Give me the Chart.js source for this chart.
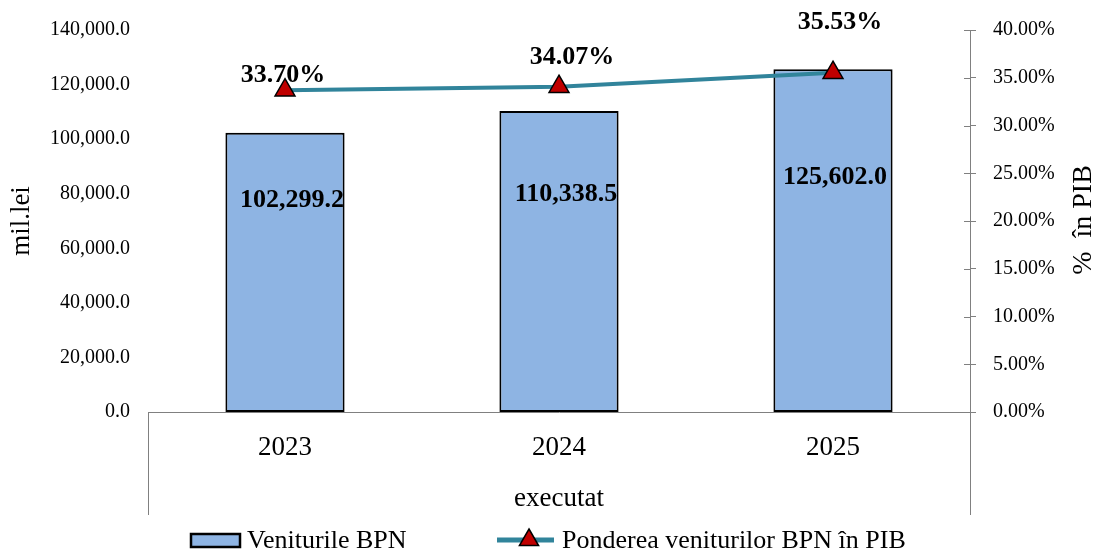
<!DOCTYPE html>
<html>
<head>
<meta charset="utf-8">
<script src="https://cdn.jsdelivr.net/npm/chart.js"></script>
<style>
  html, body { margin: 0; padding: 0; background: #fff; }
  #wrap { width: 1097px; height: 550px; }
</style>
</head>
<body>
<div id="wrap"><canvas id="chart" width="1097" height="550"></canvas></div>
<script>
const categories = ['2023', '2024', '2025'];
const groupLabel = 'executat';
const revenues = [102299.2, 110338.5, 125602.0];
const shareOfGdp = [33.70, 34.07, 35.53];
const revenueLabel = 'Veniturile BPN';
const shareLabel = 'Ponderea veniturilor BPN în PIB';
const leftTitle = 'mil.lei';
const rightTitle = '%  în PIB';

const serif = '"Liberation Serif", "Times New Roman", serif';
const barFill = '#8EB4E3';
const lineColor = '#31849B';
const markerColor = '#C00000';
const axisGray = '#808080';

const fmtLei = v => v.toLocaleString('en-US', { minimumFractionDigits: 1, maximumFractionDigits: 1 });
const fmtPct = v => v.toFixed(2) + '%';

// hand placed labels in the original, offsets in px from the point
const barLabelDrop = [67, 83, 108];
const barLabelShift = [7, 7, 2];
const pctLabelShift = [[-2, -15], [13, -29], [7, -50]];

const extras = {
  id: 'extras',
  afterDatasetsDraw(chart) {
    const ctx = chart.ctx;
    const area = chart.chartArea;
    const y1 = chart.scales.y1;

    ctx.save();
    // group separators below the category axis
    ctx.strokeStyle = axisGray;
    ctx.lineWidth = 1;
    ctx.beginPath();
    ctx.moveTo(area.left + 0.5, area.bottom);
    ctx.lineTo(area.left + 0.5, 515);
    ctx.moveTo(area.right + 0.5, area.bottom);
    ctx.lineTo(area.right + 0.5, 515);
    ctx.stroke();

    // inner half of the right axis tick marks
    ctx.beginPath();
    y1.ticks.forEach(t => {
      const py = Math.round(y1.getPixelForValue(t.value)) + 0.5;
      ctx.moveTo(area.right - 6, py);
      ctx.lineTo(area.right, py);
    });
    ctx.stroke();

    // bar value labels
    ctx.fillStyle = '#000';
    ctx.font = 'bold 26px ' + serif;
    ctx.textAlign = 'center';
    ctx.textBaseline = 'middle';
    chart.getDatasetMeta(1).data.forEach((bar, i) => {
      ctx.fillText(fmtLei(revenues[i]), bar.x + barLabelShift[i], bar.y + barLabelDrop[i]);
    });

    // percentage labels
    chart.getDatasetMeta(0).data.forEach((pt, i) => {
      ctx.fillText(fmtPct(shareOfGdp[i]), pt.x + pctLabelShift[i][0], pt.y + pctLabelShift[i][1]);
    });
    ctx.restore();
  },
  afterDraw(chart) {
    const ctx = chart.ctx;
    ctx.save();
    // right axis title, reading bottom to top
    ctx.fillStyle = '#000';
    ctx.font = '28px ' + serif;
    ctx.textAlign = 'center';
    ctx.textBaseline = 'middle';
    ctx.translate(1084, 220);
    ctx.rotate(-Math.PI / 2);
    ctx.fillText(rightTitle, 0, 0);
    ctx.restore();

    // legend
    ctx.save();
    const ly = 540;
    ctx.font = '26px ' + serif;
    ctx.textBaseline = 'middle';
    ctx.textAlign = 'left';
    ctx.fillStyle = barFill;
    ctx.fillRect(191, ly - 6, 49, 13);
    ctx.strokeStyle = '#000';
    ctx.lineWidth = 2.5;
    ctx.strokeRect(191, ly - 6, 49, 13);
    ctx.fillStyle = '#000';
    ctx.fillText(revenueLabel, 247, ly + 1);

    ctx.strokeStyle = lineColor;
    ctx.lineWidth = 5;
    ctx.beginPath();
    ctx.moveTo(497, ly);
    ctx.lineTo(554, ly);
    ctx.stroke();
    const tx = 529, r = 11;
    ctx.beginPath();
    ctx.moveTo(tx, ly - r);
    ctx.lineTo(tx + r * 0.87, ly + r * 0.5);
    ctx.lineTo(tx - r * 0.87, ly + r * 0.5);
    ctx.closePath();
    ctx.fillStyle = markerColor;
    ctx.fill();
    ctx.strokeStyle = '#000';
    ctx.lineWidth = 1.5;
    ctx.stroke();
    ctx.fillStyle = '#000';
    ctx.fillText(shareLabel, 562, ly + 1);
    ctx.restore();
  }
};

new Chart(document.getElementById('chart'), {
  data: {
    labels: categories,
    datasets: [
      {
        type: 'line',
        label: shareLabel,
        data: shareOfGdp,
        yAxisID: 'y1',
        order: 0,
        borderColor: lineColor,
        borderWidth: 4,
        tension: 0,
        pointStyle: 'triangle',
        pointRadius: 11.5,
        pointBackgroundColor: markerColor,
        pointBorderColor: '#000',
        pointBorderWidth: 1.5
      },
      {
        type: 'bar',
        label: revenueLabel,
        data: revenues,
        yAxisID: 'y',
        order: 1,
        backgroundColor: barFill,
        borderColor: '#000',
        borderWidth: 2,
        borderSkipped: false,
        categoryPercentage: 1,
        barPercentage: 0.435
      }
    ]
  },
  options: {
    responsive: false,
    animation: false,
    devicePixelRatio: 1,
    layout: { padding: { top: 27, left: 0, right: 0, bottom: 0 } },
    plugins: {
      legend: { display: false },
      tooltip: { enabled: false }
    },
    scales: {
      x: {
        grid: { display: false, drawTicks: false },
        border: { display: true, color: axisGray, width: 1 },
        ticks: { color: '#000', font: { family: serif, size: 27 }, padding: 20 },
        title: {
          display: true, text: groupLabel, color: '#000',
          font: { family: serif, size: 27 }, padding: { top: 0, bottom: 35 }
        },
        afterFit: s => { s.height = 138; }
      },
      y: {
        position: 'left',
        min: 0, max: 140000,
        ticks: { stepSize: 20000, color: '#000', font: { family: serif, size: 20 }, padding: 18, callback: v => fmtLei(v) },
        grid: { display: false, drawTicks: false },
        border: { display: false },
        title: {
          display: true, text: leftTitle, color: '#000',
          font: { family: serif, size: 27 }, padding: { top: 6, bottom: 0 }
        },
        afterFit: s => { s.width = 148; }
      },
      y1: {
        position: 'right',
        min: 0, max: 40,
        ticks: { stepSize: 5, color: '#000', font: { family: serif, size: 20 }, padding: 17, callback: v => fmtPct(v) },
        grid: { display: true, drawOnChartArea: false, drawTicks: true, tickLength: 6, color: axisGray },
        border: { display: true, color: axisGray, width: 1 },
        afterFit: s => { s.width = 127; }
      }
    }
  },
  plugins: [extras]
});
</script>
</body>
</html>
